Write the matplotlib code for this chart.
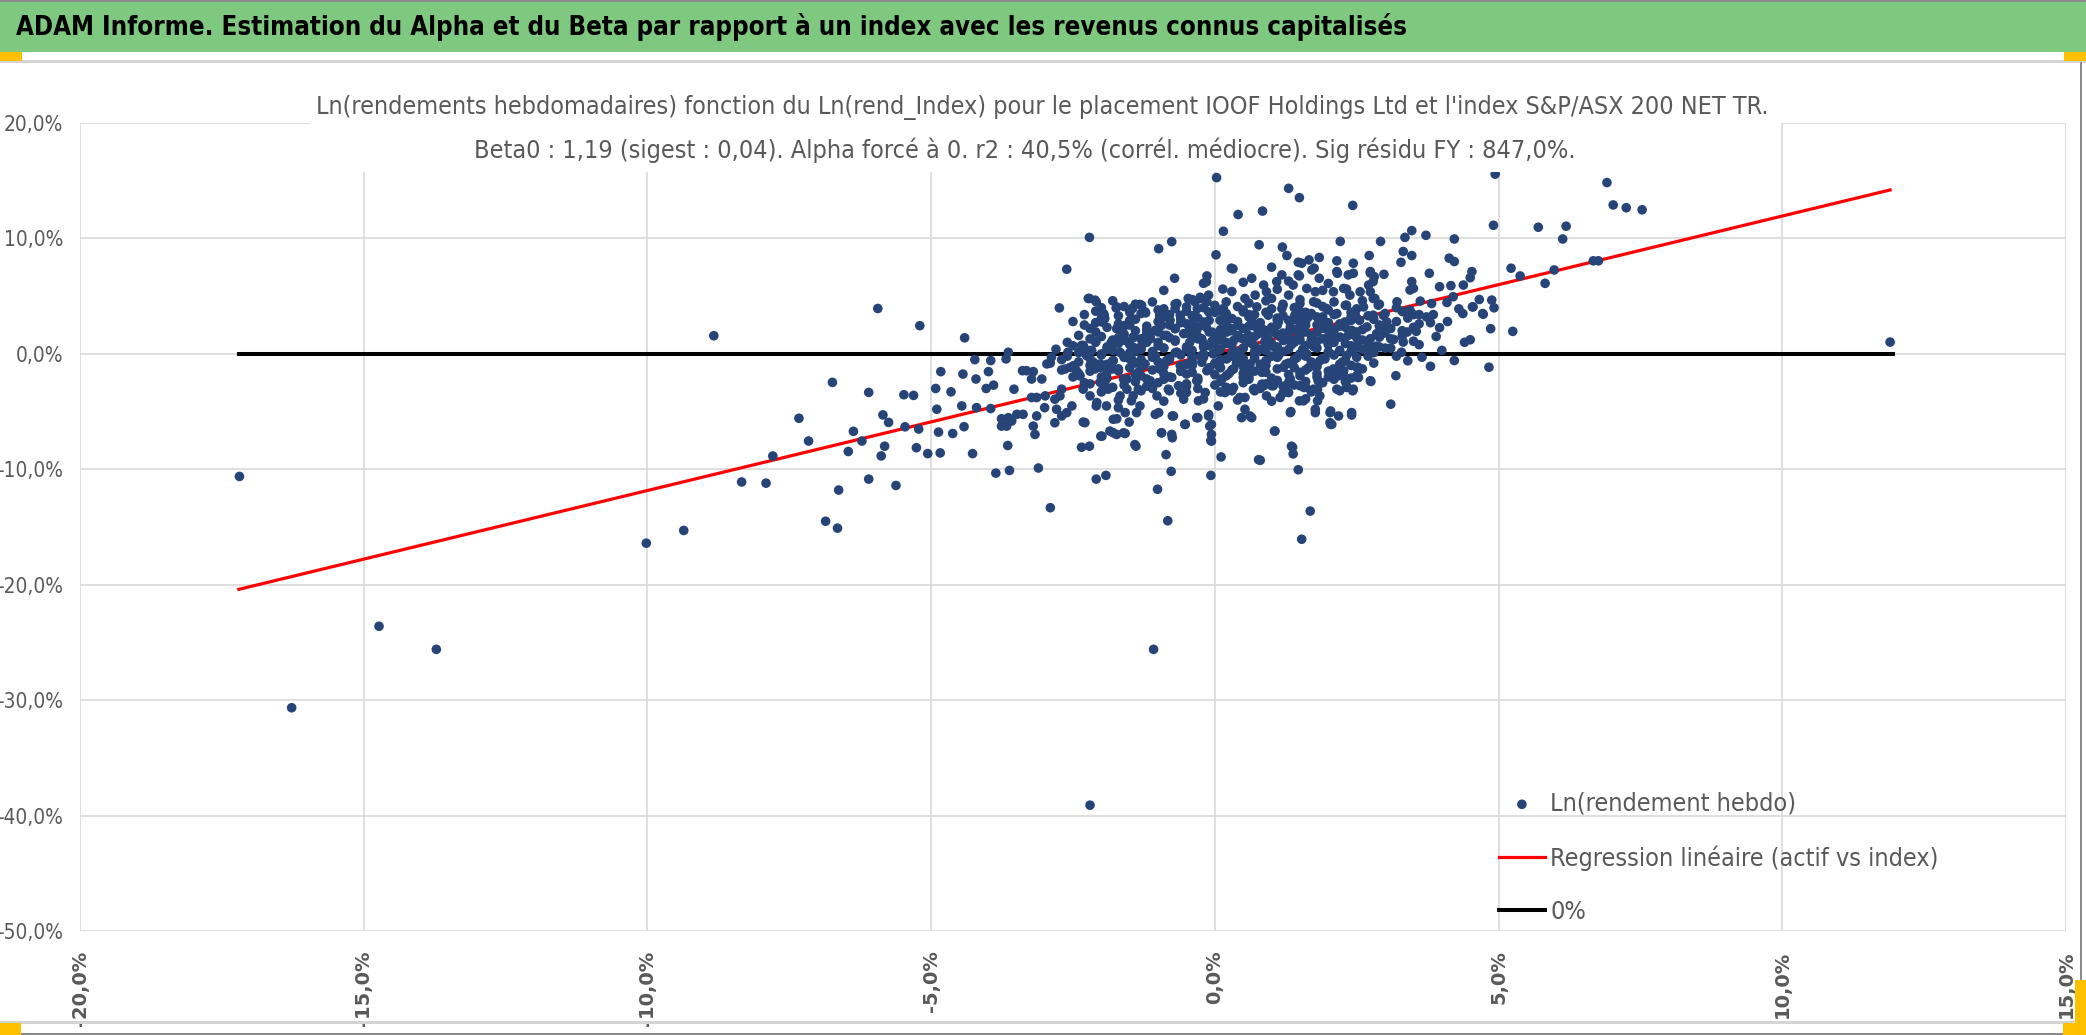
import matplotlib
matplotlib.use("Agg")
import matplotlib.pyplot as plt
from matplotlib import font_manager as fm
from matplotlib.patches import Rectangle
from matplotlib.ticker import MultipleLocator, FuncFormatter
from matplotlib.textpath import TextPath

W, H = 2086, 1035

header = "ADAM Informe. Estimation du Alpha et du Beta par rapport à un index avec les revenus connus capitalisés"
title1 = ("Ln(rendements hebdomadaires) fonction du Ln(rend_Index) pour le placement "
          "IOOF Holdings Ltd et l'index S&P/ASX 200 NET TR.")
title2 = ("Beta0 : 1,19 (sigest : 0,04). Alpha forcé à 0. r2 : 40,5% (corrél. médiocre). "
          "Sig résidu FY : 847,0%.")
labels = ["Ln(rendement hebdo)", "Regression linéaire (actif vs index)", "0%"]

# weekly log returns in % : (index, asset)
tail_pts = [(-17.19, -10.62), (-16.27, -30.66), (-14.73, -23.6), (-13.72, -25.6),
            (-10.02, -16.4), (-9.36, -15.3), (-8.83, 1.57), (-8.34, -11.1), (-7.91, -11.2),
            (-7.79, -8.85), (-7.33, -5.58), (-7.16, -7.55), (-6.86, -14.5), (-6.65, -15.1),
            (-6.74, -2.47), (-6.63, -11.8), (-6.46, -8.46), (-6.37, -6.71), (-6.22, -7.55),
            (-6.10, -3.34), (-6.10, -10.85), (-5.94, 3.93), (-5.85, -5.29), (-5.75, -5.94),
            (-5.82, -8.0), (-5.88, -8.84), (-5.62, -11.4), (-5.48, -3.54), (-5.31, -3.6),
            (-5.46, -6.32), (-5.22, -6.51), (-5.26, -8.13), (-5.2, 2.44), (-5.06, -8.64),
            (-2.2, -39.1), (-1.08, -25.6), (11.9, 1.02)]

left_pts = [(-4.41, 1.39), (-4.23, -0.50), (-3.95, -0.58), (-3.68, -0.44), (-3.64, 0.14),
            (-4.83, -1.54), (-4.44, -1.75), (-4.21, -2.18), (-3.99, -1.54), (-4.92, -3.0),
            (-4.65, -3.29), (-4.03, -3.0), (-3.90, -2.71), (-3.54, -3.06), (-3.39, -1.46),
            (-3.32, -1.46), (-3.20, -1.54), (-3.23, -2.18), (-3.05, -2.18), (-2.96, -0.87),
            (-2.88, -0.29), (-4.90, -4.80), (-4.46, -4.51), (-4.20, -4.66), (-3.95, -4.74),
            (-4.87, -6.78), (-4.62, -6.90), (-4.42, -6.31), (-3.76, -5.62), (-3.64, -5.53),
            (-3.58, -5.82), (-3.49, -5.24), (-3.38, -5.24), (-3.76, -6.26), (-3.67, -6.26),
            (-3.20, -6.26), (-3.17, -6.98), (-3.14, -5.38), (-3.00, -4.66), (-3.23, -3.78),
            (-3.14, -3.78), (-2.99, -3.64), (-2.82, -3.93), (-2.73, -3.64), (-2.70, -3.06),
            (-2.79, -4.80), (-2.82, -5.97), (-2.70, -5.38), (-2.61, -5.09), (-2.52, -4.51),
            (-3.65, -7.94), (-4.27, -8.64), (-4.84, -8.58), (-3.86, -10.33), (-3.62, -10.10),
            (-3.11, -9.89), (-2.90, -13.33), (-2.74, 3.98), (-2.61, 7.33), (-2.64, -1.31),
            (-2.59, 0.14), (-2.55, -1.17), (-2.49, -1.02), (-2.44, -1.46), (-2.38, -1.89),
            (-2.35, 0.73), (-2.32, -5.91), (-2.35, -8.09), (-2.21, -8.0), (-2.21, 10.09),
            (-2.23, 4.80), (-2.09, 4.51), (-1.99, 2.76), (-1.95, 3.34), (-2.19, 0.29),
            (-2.14, -0.73), (-2.02, -1.17), (-2.09, -4.51), (-2.02, -2.47), (-1.91, -4.51),
            (-1.97, -3.06), (-1.85, -6.69), (-1.79, -6.84), (-1.73, -5.62), (-1.70, -4.66),
            (-1.58, -6.90), (-1.51, -5.91), (-1.39, -8.0), (-2.01, -7.13), (-2.09, -10.85),
            (-1.92, -10.53), (-1.83, 0.96), (-1.74, 3.98), (-1.72, 2.18), (-1.64, 1.60),
            (-1.58, 2.47), (-1.67, 0.14), (-1.61, -2.18), (-1.55, -3.06), (-1.44, -3.64),
            (-1.38, -5.09), (-1.32, -4.51), (-1.45, 3.93), (-1.32, 4.28), (-1.22, 3.55),
            (-1.47, -0.44), (-1.42, 1.45), (-1.26, -1.02), (-1.20, -2.18), (-1.14, 1.31),
            (-1.03, 2.04), (-0.95, 3.29), (-0.99, 9.11), (-0.76, 9.72), (-0.71, 6.55),
            (-1.05, -5.24), (-0.94, -6.84), (-0.75, -5.38), (-0.75, -7.27), (-0.86, -8.73),
            (-0.77, -10.18), (-1.01, -11.73), (-0.83, -14.46), (-0.52, -6.11), (-0.30, -5.53),
            (-0.11, -5.24), (-0.09, -6.26), (-0.07, -7.51), (-0.07, -10.53), (0.11, -8.93),
            (0.03, 15.27), (0.41, 12.07), (0.15, 10.62), (0.02, 8.58), (0.29, 7.42),
            (0.14, 5.61), (-0.20, 6.11), (-0.14, 6.75), (0.65, 6.55), (0.78, 9.45),
            (0.47, -5.53), (0.62, -5.38), (0.77, -9.17)]

right_pts = [(1.30, 14.34), (1.49, 13.53), (2.43, 12.86), (0.84, 12.37), (4.94, 15.57),
             (4.91, 11.14), (5.70, 10.97), (6.19, 11.06), (6.13, 9.95), (1.19, 9.25),
             (1.27, 8.52), (2.21, 9.74), (2.92, 9.74), (3.35, 10.09), (3.47, 10.68),
             (3.72, 10.27), (4.22, 9.95), (2.72, 8.52), (3.32, 8.87), (3.47, 8.52),
             (3.28, 7.93), (2.15, 8.06), (2.44, 7.85), (1.84, 8.35), (1.66, 8.14),
             (1.47, 7.94), (1.53, 7.85), (1.75, 7.42), (1.00, 7.51), (0.32, 7.36),
             (1.49, 6.75), (1.84, 6.55), (2.16, 6.98), (2.35, 6.84), (2.32, 5.61),
             (2.38, 5.09), (2.74, 7.13), (2.81, 6.69), (2.98, 6.89), (3.78, 6.98),
             (4.13, 8.29), (4.22, 8.0), (4.53, 7.13), (4.50, 6.60), (5.22, 7.42),
             (5.38, 6.75), (5.82, 6.11), (5.98, 7.27), (3.96, 5.82), (4.16, 5.91),
             (4.38, 5.96), (3.47, 6.26), (3.50, 5.67), (3.44, 5.53), (3.62, 4.57),
             (3.82, 4.36), (4.09, 4.45), (4.20, 4.95), (4.66, 4.71), (4.88, 4.66),
             (4.92, 3.99), (4.37, 3.49), (4.54, 4.07), (4.73, 3.43), (3.73, 3.20),
             (3.85, 3.40), (3.96, 2.27), (3.21, 4.51), (3.32, 3.64), (3.44, 3.78),
             (3.55, 1.95), (3.39, 1.89), (3.15, 1.25), (3.32, 1.02), (3.29, 0.14),
             (2.85, 0.67), (2.90, 1.45), (2.68, 0.29), (3.03, 2.76), (2.74, 5.38),
             (2.79, 4.80), (2.88, 4.22), (2.97, 3.34), (3.00, 2.33), (4.86, 2.18),
             (5.25, 1.95), (4.50, 1.22), (3.65, -0.29), (3.80, -1.08), (4.22, -0.58),
             (4.83, -1.16), (3.19, -1.89), (2.75, -2.39), (2.52, -2.04), (2.52, -1.16),
             (3.10, -4.36), (2.41, -5.30), (2.18, -5.38), (2.04, -4.95), (2.04, -6.11),
             (1.77, -5.09), (1.81, -4.07), (1.49, -4.07), (1.34, -5.0), (1.05, -6.69),
             (0.80, -9.22), (1.37, -8.09), (1.38, -8.67), (1.47, -10.04), (1.68, -13.62),
             (1.53, -16.06), (0.53, -3.78), (0.86, -2.76), (1.03, -2.76), (1.30, -2.47),
             (1.57, -2.91), (1.81, -3.06), (2.32, -2.91), (2.43, -3.20), (2.15, -1.75),
             (2.27, -1.46), (6.91, 14.84), (7.02, 12.9), (7.25, 12.66), (7.53, 12.48),
             (6.67, 8.06), (6.76, 8.06), (4.55, 4.07), (4.72, 3.49)]

core_pts = [(1.18, 6.84), (1.09, 6.26), (1.47, 6.84), (1.71, 7.27), (2.15, 7.13),
            (2.44, 6.98), (2.74, 7.0), (2.71, 5.96), (0.86, 5.96), (0.91, 5.38),
            (1.38, 5.96), (1.62, 5.67), (1.77, 5.38), (2.09, 5.38), (2.27, 5.67),
            (2.56, 5.38), (2.79, 6.26), (-2.21, 4.8), (-2.11, 4.65), (-1.96, 3.49),
            (-1.94, 3.06), (-1.73, 4.07), (-1.46, 3.93), (-1.23, 3.64), (-0.97, 3.35),
            (-0.67, 4.36), (-0.50, 4.07), (-0.35, 4.51), (-0.11, 5.09), (-0.14, 4.51),
            (-0.26, 4.80), (-0.97, 3.2), (-1.29, 4.2), (-0.70, 3.92), (-0.47, 4.80),
            (-0.15, 6.25), (-0.26, 4.9), (-0.31, 3.92),
            (-2.32, 0.73), (-2.17, 0.29), (-1.82, 0.87), (-1.73, 2.18), (-1.61, 1.75),
            (-1.58, 1.16), (-1.44, 1.45), (-1.44, 0.58), (-1.29, 0.73), (-1.14, 1.45),
            (-1.05, 2.04), (-0.94, 2.47), (-0.85, 1.6), (-0.79, 2.91), (-0.70, 2.18),
            (-0.61, 3.35), (-0.55, 1.75), (-0.50, 2.62), (-0.44, 1.02), (-0.35, 3.35),
            (-0.32, 2.04), (-0.23, 1.31), (-0.20, 2.76), (-0.11, 3.64), (-0.05, 1.89),
            (0.0, 0.87), (0.09, 2.91), (0.15, 3.93), (0.21, 1.89), (0.30, 3.06),
            (0.33, 1.16), (0.41, 2.47), (0.50, 3.64), (0.53, 4.8), (0.59, 1.6),
            (0.65, 2.91), (0.71, 5.09), (0.74, 4.07), (0.83, 2.18), (0.88, 1.02),
            (0.94, 3.35), (1.0, 4.8), (1.03, 1.89), (1.12, 2.76), (1.18, 3.93),
            (1.21, 1.16), (1.30, 5.09), (1.33, 2.33), (1.41, 3.35), (1.44, 1.31),
            (1.50, 4.36), (1.56, 2.18), (1.65, 3.2), (1.68, 0.87), (1.74, 4.51),
            (1.80, 1.89), (1.88, 2.91), (1.97, 3.93), (2.0, 0.87), (2.06, 2.18),
            (2.15, 3.49), (2.21, 1.45), (2.29, 2.76), (2.32, 4.22), (2.41, 2.04),
            (2.47, 3.49), (2.50, 0.73), (2.62, 4.07), (2.68, 2.33), (2.74, 1.31),
            (2.79, 3.35), (2.82, 4.8), (2.85, 1.75),
            (-2.38, -1.89), (-2.26, -0.15), (-2.11, -1.31), (-2.02, -0.87), (-1.94, -2.47),
            (-1.79, -0.58), (-1.70, -1.46), (-1.55, -2.18), (-1.50, -0.44), (-1.35, -1.60),
            (-1.23, -0.87), (-1.14, -2.33), (-1.05, -0.15), (-0.97, -1.31), (-0.85, -0.58),
            (-0.76, -2.04), (-0.67, 0.15), (-0.61, -1.02), (-0.50, -1.75), (-0.41, -0.15),
            (-0.32, -2.33), (-0.23, -0.73), (-0.14, -1.46), (-0.03, 0.0), (0.06, -1.02),
            (0.12, -2.18), (0.21, -0.44), (0.33, -1.31), (0.44, -0.15), (0.50, -2.04),
            (0.62, -0.87), (0.74, 0.15), (0.83, -1.60), (0.91, -0.58), (1.03, -2.33),
            (1.12, -0.15), (1.21, -1.16), (1.33, -2.18), (1.41, -0.44), (1.50, -1.60),
            (1.62, 0.0), (1.74, -1.02), (1.82, -2.33), (1.94, -0.44), (2.09, -1.31),
            (2.18, -1.89), (2.32, -0.15), (2.50, -1.16), (2.50, -1.89), (2.68, 0.29),
            (2.82, 0.58),
            (-2.32, -3.06), (-2.20, -3.64), (-2.08, -4.22), (-1.88, -3.06), (-1.79, -5.67),
            (-1.67, -3.64), (-1.58, -5.09), (-1.47, -4.07), (-1.35, -3.06), (-1.02, -3.64),
            (-0.99, -5.09), (-0.82, -3.06), (-0.73, -5.38), (-0.64, -2.76), (-0.55, -3.93),
            (-0.50, -3.35), (-0.29, -4.07), (-0.17, -3.35), (-0.11, -5.38), (-0.06, -6.11),
            (0.06, -4.51), (0.18, -3.35), (0.33, -2.91), (0.44, -3.78), (0.53, -4.80),
            (0.68, -3.06), (0.83, -2.62), (0.91, -3.64), (1.0, -2.76), (1.15, -3.78),
            (1.30, -3.35), (1.33, -5.09), (1.50, -2.76), (1.56, -4.07), (1.74, -3.06),
            (1.77, -4.80), (1.85, -3.64), (2.03, -5.09), (2.06, -6.11), (2.15, -3.06),
            (2.27, -1.89), (2.32, -2.76), (2.41, -5.09), (2.44, -3.06), (2.53, -2.04),
            (2.74, -2.33),
            (-2.29, -5.96), (-1.99, -7.13), (-1.73, -6.98), (-1.61, -6.84), (-1.41, -7.86),
            (-0.94, -6.84), (-0.76, -6.98), (-0.53, -6.11), (-0.32, -5.53), (-0.06, -6.98),
            (-0.06, -7.56), (0.65, -5.53), (1.06, -6.69), (1.35, -8.0), (2.03, -5.96)]

dense_pts = [(-0.9, 0.5), (-0.8, -0.5), (-0.7, 1.2), (-0.6, -1.5), (-0.5, 0.4), (-0.45, 2.0),
             (-0.4, -0.9), (-0.3, 1.5), (-0.25, -0.2), (-0.2, 0.6), (-0.15, 2.3), (-0.1, -1.2),
             (-0.05, 1.1), (0.05, 0.3), (0.1, -0.6), (0.12, 1.6), (0.2, 0.9), (0.25, -1.7),
             (0.28, 2.2), (0.35, 0.2), (0.38, -0.8), (0.45, 1.4), (0.5, 0.5), (0.55, -1.4),
             (0.6, 2.4), (0.65, 0.9), (0.7, -0.4), (0.75, 1.7), (0.8, 0.4), (0.85, -1.0),
             (0.9, 2.0), (0.95, 1.2), (1.0, -0.2), (1.05, 0.6), (1.1, 2.9), (1.15, 1.5),
             (1.2, 0.2), (1.25, -0.9), (1.3, 1.9), (1.35, 0.8), (1.4, 3.0), (1.45, -0.3),
             (1.5, 1.2), (1.55, 0.4), (1.6, 2.5), (1.65, -1.2), (1.7, 1.6), (1.75, 0.6),
             (1.8, 3.2), (1.85, -0.6), (1.9, 1.3), (1.95, 2.2), (2.0, 0.2), (2.1, 1.0),
             (2.2, 2.6), (2.25, -0.7), (2.35, 1.6), (2.45, 0.4), (2.55, 2.9), (2.6, 1.2),
             (2.7, -0.2), (-1.0, 1.0), (-1.1, -0.3), (-1.2, 1.8), (-1.3, -1.0), (-1.4, 0.2),
             (-1.5, 2.5), (-1.6, -0.2), (-1.7, 1.4), (-1.8, -1.3), (-1.9, 0.4), (-2.0, -2.0),
             (-2.1, 1.0), (-2.2, -1.0), (-2.3, -2.5), (-1.2, -2.8), (-0.8, -3.2), (-0.3, -3.0),
             (0.3, -3.2), (0.8, -3.0), (1.3, -2.6), (1.8, -2.0), (2.3, -2.4), (-0.6, 3.0),
             (0.0, 3.6), (0.6, 3.4), (1.2, 4.2), (1.6, 3.6), (2.4, 3.2), (2.9, 2.4),
             (3.1, 0.5), (3.3, 2.0), (3.5, 3.4), (3.4, -0.6), (3.6, 0.8), (3.9, 1.5),
             (4.1, 2.8), (4.3, 3.9), (4.0, 0.3), (4.4, 1.0)]

fill_pts = [(-1.8, 4.6), (-1.1, 4.5), (-0.4, 4.7), (0.2, 4.5), (0.9, 4.6), (1.5, 4.7),
            (2.1, 4.5), (2.6, 4.6), (-2.0, 4.0), (-1.6, 4.1), (-0.9, 3.9), (-0.2, 4.0),
            (0.4, 4.1), (1.0, 3.9), (1.4, 4.0), (1.9, 4.1), (2.5, 3.9), (3.2, 4.0),
            (-2.3, 3.4), (-1.7, 3.3), (-1.3, 3.5), (-0.8, 3.4), (-0.4, 3.3), (0.2, 3.5),
            (0.7, 3.4), (1.2, 3.3), (1.7, 3.5), (2.1, 3.4), (2.7, 3.3), (3.0, 3.5),
            (3.6, 3.4), (-2.5, 2.8), (-2.1, 2.7), (-1.5, 2.9), (-1.0, 2.8), (-0.6, 2.7),
            (-0.1, 2.9), (0.4, 2.8), (0.8, 2.7), (1.3, 2.9), (1.6, 2.8), (2.0, 2.7),
            (2.4, 2.9), (3.2, 2.8), (3.8, 2.7), (-2.2, 2.2), (-1.9, 2.3), (-1.2, 2.1),
            (-0.7, 2.2), (-0.3, 2.3), (0.1, 2.1), (0.5, 2.2), (1.0, 2.3), (1.4, 2.1),
            (1.9, 2.2), (2.3, 2.3), (2.6, 2.1), (3.1, 2.2), (3.5, 2.3), (-2.4, 1.6),
            (-2.0, 1.5), (-1.6, 1.7), (-0.9, 1.6), (-0.4, 1.5), (0.0, 1.7), (0.4, 1.6),
            (0.7, 1.5), (1.1, 1.7), (1.5, 1.6), (2.0, 1.5), (2.4, 1.7), (2.9, 1.6),
            (3.3, 1.5), (-2.6, 1.0), (-2.1, 1.1), (-1.7, 0.9), (-1.2, 1.0), (-0.7, 1.1),
            (-0.2, 0.9), (0.2, 1.0), (0.6, 1.1), (1.0, 0.9), (1.4, 1.0), (1.8, 1.1),
            (2.3, 0.9), (2.7, 1.0), (3.5, 1.1), (-2.8, 0.4), (-2.3, 0.5), (-1.8, 0.3),
            (-1.3, 0.4), (-0.9, 0.5), (-0.4, 0.3), (0.1, 0.4), (0.5, 0.5), (0.9, 0.3),
            (1.3, 0.4), (1.8, 0.5), (2.2, 0.3), (2.6, 0.4), (3.0, 0.5), (-2.6, -0.2),
            (-2.0, -0.1), (-1.6, -0.3), (-1.1, -0.2), (-0.6, -0.1), (-0.2, -0.3), (0.3, -0.2),
            (0.7, -0.1), (1.1, -0.3), (1.6, -0.2), (2.1, -0.1), (2.5, -0.3), (3.2, -0.2),
            (-2.9, -0.8), (-2.4, -0.7), (-1.9, -0.9), (-1.4, -0.8), (-1.0, -0.7), (-0.5, -0.9),
            (0.0, -0.8), (0.4, -0.7), (0.8, -0.9), (1.3, -0.8), (1.7, -0.7), (2.2, -0.9),
            (2.8, -0.8), (-2.7, -1.4), (-2.2, -1.5), (-1.7, -1.3), (-1.1, -1.4), (-0.6, -1.5),
            (-0.1, -1.3), (0.3, -1.4), (0.7, -1.5), (1.1, -1.3), (1.6, -1.4), (2.0, -1.5),
            (2.6, -1.3), (-2.5, -2.0), (-1.9, -2.1), (-1.3, -1.9), (-0.8, -2.0), (-0.3, -2.1),
            (0.2, -1.9), (0.6, -2.0), (1.0, -2.1), (1.5, -1.9), (2.0, -2.0), (2.4, -2.1),
            (-2.2, -2.6), (-1.6, -2.7), (-1.0, -2.5), (-0.5, -2.6), (0.0, -2.7), (0.5, -2.5),
            (0.9, -2.6), (1.4, -2.7), (1.9, -2.5), (-2.0, -3.3), (-1.3, -3.2), (-0.6, -3.4),
            (0.1, -3.3), (0.7, -3.2), (1.2, -3.4), (1.7, -3.3), (2.2, -3.2), (-1.7, -4.0),
            (-0.9, -4.1), (-0.2, -3.9), (0.4, -4.0), (1.0, -4.1), (1.6, -3.9), (-0.9, 5.5),
            (0.3, 5.4), (1.1, 5.6), (1.9, 5.5), (0.5, 6.2), (1.3, 6.3), (2.0, 6.1)]

fill2_pts = [(-1.4, 4.3), (-0.7, 4.3), (0.0, 4.2), (0.6, 4.4), (1.2, 4.3), (1.8, 4.4),
             (2.3, 4.2), (2.9, 4.3), (-2.1, 3.7), (-1.5, 3.6), (-1.0, 3.8), (-0.5, 3.7),
             (0.1, 3.7), (0.5, 3.8), (0.9, 3.6), (1.5, 3.7), (2.0, 3.8), (2.4, 3.6),
             (3.3, 3.7), (-2.0, 3.1), (-1.4, 3.0), (-0.9, 3.2), (-0.3, 3.1), (0.2, 3.0),
             (0.6, 3.2), (1.1, 3.1), (1.5, 3.0), (1.9, 3.2), (2.5, 3.1), (2.8, 3.0),
             (3.4, 3.1), (-2.3, 2.5), (-1.7, 2.6), (-1.2, 2.4), (-0.8, 2.5), (-0.4, 2.6),
             (0.2, 2.5), (0.7, 2.4), (1.1, 2.5), (1.5, 2.6), (1.8, 2.5), (2.2, 2.4),
             (2.9, 2.5), (3.6, 2.6), (-2.1, 1.9), (-1.4, 2.0), (-1.0, 1.9), (-0.5, 1.8),
             (-0.1, 1.9), (0.3, 2.0), (0.8, 1.9), (1.2, 1.8), (1.6, 1.9), (2.1, 2.0),
             (2.5, 1.9), (3.0, 1.8), (-2.2, 1.3), (-1.8, 1.2), (-1.3, 1.3), (-0.8, 1.4),
             (-0.3, 1.3), (0.1, 1.2), (0.5, 1.3), (0.9, 1.4), (1.3, 1.3), (1.7, 1.2),
             (2.1, 1.3), (2.5, 1.4), (3.1, 1.3), (-2.5, 0.7), (-1.9, 0.6), (-1.5, 0.8),
             (-1.0, 0.7), (-0.5, 0.6), (-0.1, 0.7), (0.3, 0.8), (0.7, 0.7), (1.1, 0.6),
             (1.6, 0.7), (2.0, 0.8), (2.4, 0.7), (2.9, 0.6), (-2.4, 0.1), (-2.0, 0.0),
             (-1.5, 0.1), (-1.1, 0.2), (-0.7, 0.1), (-0.2, 0.0), (0.3, 0.1), (0.7, 0.2),
             (1.1, 0.1), (1.5, 0.0), (2.0, 0.1), (2.4, 0.2), (2.8, 0.1), (-2.7, -0.5),
             (-2.2, -0.4), (-1.8, -0.6), (-1.3, -0.5), (-0.8, -0.4), (-0.4, -0.6), (0.1, -0.5),
             (0.5, -0.4), (0.9, -0.6), (1.4, -0.5), (1.9, -0.4), (2.3, -0.6), (-2.5, -1.1),
             (-2.0, -1.0), (-1.5, -1.2), (-0.9, -1.1), (-0.4, -1.0), (0.1, -1.2), (0.5, -1.1),
             (0.9, -1.0), (1.4, -1.2), (1.8, -1.1), (2.4, -1.0), (-2.4, -1.7), (-1.9, -1.6),
             (-1.4, -1.8), (-0.9, -1.7), (-0.4, -1.6), (0.0, -1.8), (0.5, -1.7), (0.9, -1.6),
             (1.3, -1.8), (1.8, -1.7), (2.2, -1.6), (-2.0, -2.3), (-1.4, -2.4), (-0.9, -2.2),
             (-0.3, -2.3), (0.1, -2.4), (0.6, -2.2), (1.1, -2.3), (1.6, -2.4), (2.1, -2.2),
             (-1.8, -2.9), (-1.1, -3.0), (-0.5, -2.8), (0.2, -2.9), (0.7, -3.0), (1.2, -2.8),
             (1.6, -2.9)]

reg_x = [-17.2, 11.9]
reg_y = [-20.4, 14.2]
zero_x = [-17.2, 11.95]
zero_y = [0.0, 0.0]

all_pts = tail_pts + left_pts + right_pts + core_pts + dense_pts + fill_pts + fill2_pts
idx_ret = [p[0] for p in all_pts]
asset_ret = [p[1] for p in all_pts]

navy = "#264478"
grey_txt = "#595959"
grid_c = "#d9d9d9"

# narrow sans close to Calibri, if the machine has one
names = {f.name for f in fm.fontManager.ttflist}
cond = any(f.name == "DejaVu Sans" and "Condensed" in f.fname for f in fm.fontManager.ttflist)
if "Liberation Sans Narrow" in names:
    nfam, nstretch = "Liberation Sans Narrow", "normal"
elif cond:
    nfam, nstretch = "DejaVu Sans", "condensed"
else:
    nfam, nstretch = "Liberation Sans", "normal"


def text_w(s, size, weight="normal"):
    fp = fm.FontProperties(family=nfam, stretch=nstretch, weight=weight, size=size)
    return TextPath((0, 0), s, prop=fp).get_extents().width * 100 / 72


def fit_size(s, target_px, weight="normal"):
    return 20 * target_px / text_w(s, 20, weight)


def fx(px):
    return px / W


def fy(py):
    return 1 - py / H


fig = plt.figure(figsize=(W / 100, H / 100), dpi=100)
fig.patch.set_facecolor("white")

ax = fig.add_axes([fx(80), fy(931), (2066 - 80) / W, (931 - 123) / H])
ax.set_xlim(-20, 15)
ax.set_ylim(-50, 20)
ax.xaxis.set_major_locator(MultipleLocator(5))
ax.yaxis.set_major_locator(MultipleLocator(10))
pct = FuncFormatter(lambda v, p: f"{v:.1f}%".replace(".", ","))
ax.xaxis.set_major_formatter(pct)
ax.yaxis.set_major_formatter(pct)
ax.grid(True, color=grid_c, lw=1.2)
ax.set_axisbelow(True)
for s in ax.spines.values():
    s.set_visible(False)
ax.tick_params(length=0)
ysize = fit_size("-50,0%", 64)
ax.tick_params(axis="y", pad=12, labelsize=ysize, labelcolor=grey_txt)
ax.tick_params(axis="x", pad=14, labelsize=14, labelcolor=grey_txt, labelrotation=90)
for lab in ax.get_yticklabels():
    lab.set_family(nfam)
    lab.set_stretch(nstretch)
for lab in ax.get_xticklabels():
    lab.set_family("DejaVu Sans")
    lab.set_fontweight("bold")

reg_line, = ax.plot(reg_x, reg_y, color="#ff0000", lw=2.3, zorder=2)
zero_line, = ax.plot(zero_x, zero_y, color="black", lw=2.9, zorder=2)
sc = ax.scatter(idx_ret, asset_ret, s=48, color=navy, edgecolors="none", zorder=3)

lsize = fit_size(labels[1], 385)
fig.legend([sc, reg_line, zero_line], labels, loc="center left",
           bbox_to_anchor=(fx(1499), fy(858)), frameon=False,
           prop={"family": nfam, "stretch": nstretch, "size": lsize}, labelcolor=grey_txt,
           handlelength=33 / lsize, handletextpad=4 / lsize,
           labelspacing=(42.1 - 1.16 * lsize) / lsize,
           borderpad=0, borderaxespad=0, scatterpoints=1)

# green header band and chart frame
fig.add_artist(Rectangle((0, fy(52)), 1, (52 - 2) / H, transform=fig.transFigure,
                         facecolor="#7ec880", edgecolor="none", zorder=1))
fig.add_artist(Rectangle((0, fy(2)), 1, 2 / H, transform=fig.transFigure,
                         facecolor="#8a8a8a", edgecolor="none", zorder=1))
fig.add_artist(Rectangle((0, fy(63)), 1, 3 / H, transform=fig.transFigure,
                         facecolor="#d4d4d4", edgecolor="none", zorder=1))
fig.add_artist(Rectangle((0, fy(1024)), 1, 3 / H, transform=fig.transFigure,
                         facecolor="#d4d4d4", edgecolor="none", zorder=1))
fig.add_artist(Rectangle((fx(2080), fy(1024)), 2 / W, (1024 - 62) / H, transform=fig.transFigure,
                         facecolor="#8a8a8a", edgecolor="none", zorder=1))
fig.add_artist(Rectangle((0, 0), 1, 2 / H, transform=fig.transFigure,
                         facecolor="#8a8a8a", edgecolor="none", zorder=1))
for x0, y0, w, h in [(0, 52, 22, 9), (2064, 52, 22, 9), (0, 1023, 21, 12), (2063, 1023, 23, 12),
                     (2075, 980, 11, 43)]:
    fig.add_artist(Rectangle((fx(x0), fy(y0 + h)), w / W, h / H, transform=fig.transFigure,
                             facecolor="#ffc000", edgecolor="none", zorder=2))

# white title box over the plot area
fig.add_artist(Rectangle((fx(310), fy(172)), (1781 - 310) / W, (172 - 88) / H,
                         transform=fig.transFigure, facecolor="white", edgecolor="none", zorder=2))

fig.text(fx(16), fy(27), header, ha="left", va="center", fontsize=fit_size(header, 1394, "bold"),
         fontweight="bold", family=nfam, fontstretch=nstretch, color="black", zorder=4)
fig.text(fx(1042), fy(107), title1, ha="center", va="center", fontsize=fit_size(title1, 1450),
         family=nfam, fontstretch=nstretch, color=grey_txt, zorder=4)
fig.text(fx(474), fy(150), title2, ha="left", va="center", fontsize=fit_size(title2, 1098),
         family=nfam, fontstretch=nstretch, color=grey_txt, zorder=4)

fig.savefig("out.png", dpi=100)
